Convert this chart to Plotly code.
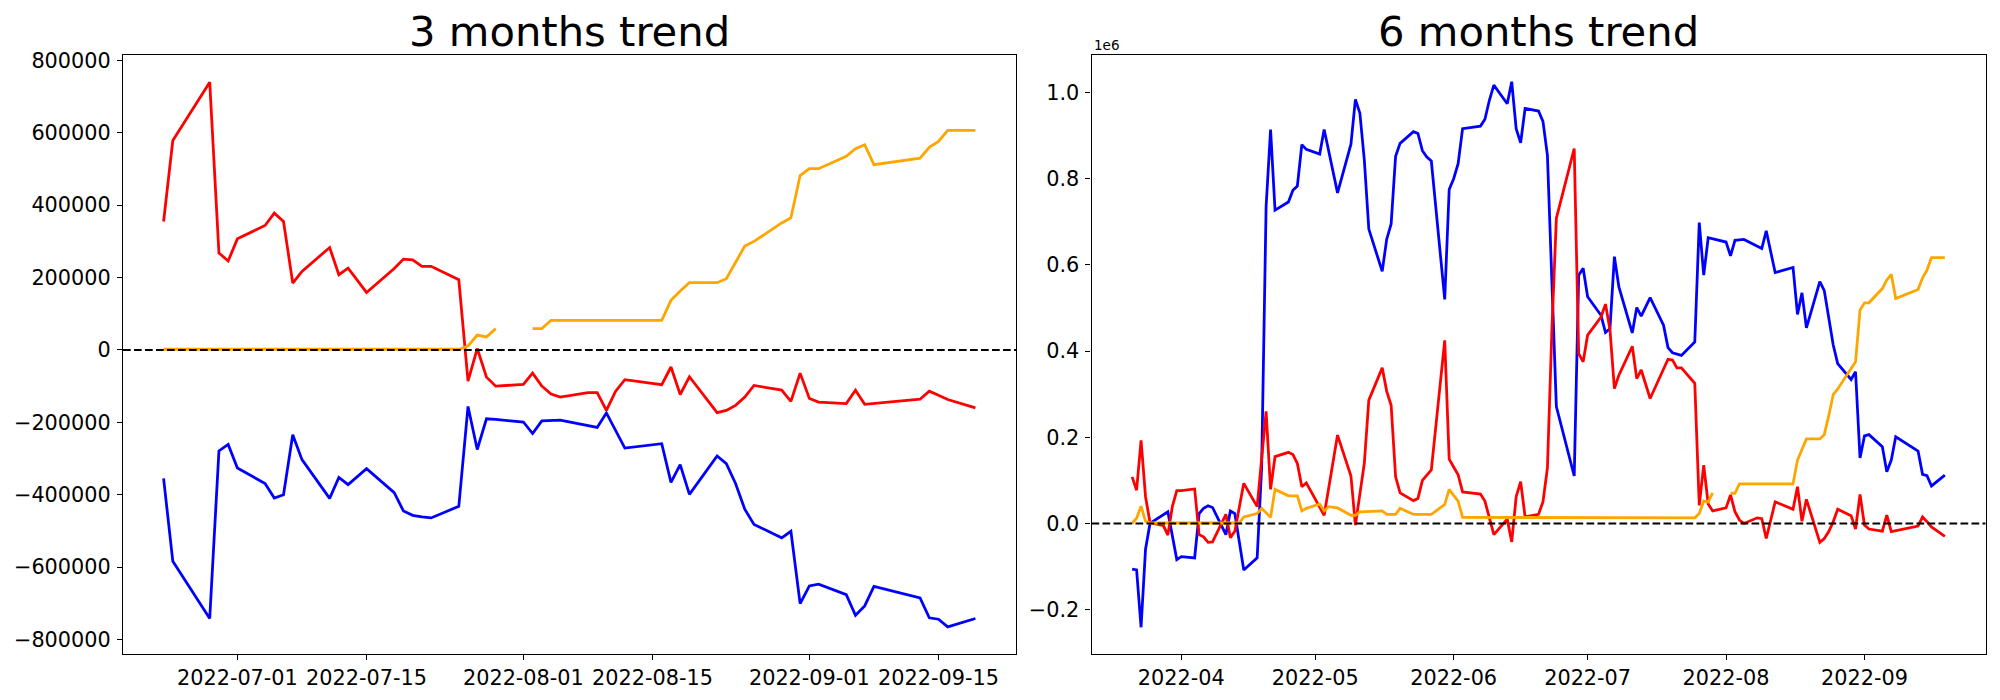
import plotly.graph_objects as go

# ---------------- 3 months trend (left) ----------------
red3 = [
    ("2022-06-23", 355000), ("2022-06-24", 579000), ("2022-06-28", 740000),
    ("2022-06-29", 268000), ("2022-06-30", 246000), ("2022-07-01", 307000),
    ("2022-07-04", 344000), ("2022-07-05", 378000), ("2022-07-06", 355000),
    ("2022-07-07", 185000), ("2022-07-08", 217000), ("2022-07-11", 283000),
    ("2022-07-12", 208000), ("2022-07-13", 226000), ("2022-07-15", 159000),
    ("2022-07-18", 225000), ("2022-07-19", 251000), ("2022-07-20", 249000),
    ("2022-07-21", 231000), ("2022-07-22", 231000), ("2022-07-25", 194000),
    ("2022-07-26", -86000), ("2022-07-27", 4000), ("2022-07-28", -75000),
    ("2022-07-29", -100000), ("2022-08-01", -95000), ("2022-08-02", -64000),
    ("2022-08-03", -100000), ("2022-08-04", -122000), ("2022-08-05", -130000),
    ("2022-08-08", -118000), ("2022-08-09", -118000), ("2022-08-10", -167000),
    ("2022-08-11", -114000), ("2022-08-12", -82000), ("2022-08-16", -96000),
    ("2022-08-17", -47000), ("2022-08-18", -123000), ("2022-08-19", -74000),
    ("2022-08-22", -173000), ("2022-08-23", -167000), ("2022-08-24", -153000),
    ("2022-08-25", -130000), ("2022-08-26", -98000), ("2022-08-29", -111000),
    ("2022-08-30", -142000), ("2022-08-31", -64000), ("2022-09-01", -134000),
    ("2022-09-02", -144000), ("2022-09-05", -148000), ("2022-09-06", -111000),
    ("2022-09-07", -150000), ("2022-09-13", -136000), ("2022-09-14", -114000),
    ("2022-09-15", -125000), ("2022-09-16", -137000), ("2022-09-19", -160000),
]
blue3 = [
    ("2022-06-23", -355000), ("2022-06-24", -584000), ("2022-06-28", -742000),
    ("2022-06-29", -279000), ("2022-06-30", -261000), ("2022-07-01", -326000),
    ("2022-07-04", -369000), ("2022-07-05", -409000), ("2022-07-06", -400000),
    ("2022-07-07", -234000), ("2022-07-08", -303000), ("2022-07-11", -410000),
    ("2022-07-12", -352000), ("2022-07-13", -372000), ("2022-07-15", -328000),
    ("2022-07-18", -394000), ("2022-07-19", -445000), ("2022-07-20", -457000),
    ("2022-07-21", -461000), ("2022-07-22", -464000), ("2022-07-25", -432000),
    ("2022-07-26", -156000), ("2022-07-27", -275000), ("2022-07-28", -190000),
    ("2022-07-29", -192000), ("2022-08-01", -199000), ("2022-08-02", -231000),
    ("2022-08-03", -196000), ("2022-08-05", -194000), ("2022-08-08", -210000),
    ("2022-08-09", -214000), ("2022-08-10", -174000), ("2022-08-12", -271000),
    ("2022-08-16", -259000), ("2022-08-17", -366000), ("2022-08-18", -317000),
    ("2022-08-19", -399000), ("2022-08-22", -293000), ("2022-08-23", -314000),
    ("2022-08-24", -369000), ("2022-08-25", -440000), ("2022-08-26", -482000),
    ("2022-08-29", -519000), ("2022-08-30", -501000), ("2022-08-31", -701000),
    ("2022-09-01", -652000), ("2022-09-02", -647000), ("2022-09-05", -676000),
    ("2022-09-06", -733000), ("2022-09-07", -707000), ("2022-09-08", -653000),
    ("2022-09-13", -685000), ("2022-09-14", -740000), ("2022-09-15", -744000),
    ("2022-09-16", -765000), ("2022-09-19", -742000),
]
orange3 = [
    ("2022-06-23", 2000), ("2022-07-25", 2000), ("2022-07-26", 11000),
    ("2022-07-27", 41000), ("2022-07-28", 36000), ("2022-07-29", 59000),
    ("2022-08-01", None), ("2022-08-02", 59000), ("2022-08-03", 59000),
    ("2022-08-04", 82000), ("2022-08-16", 82000), ("2022-08-17", 137000),
    ("2022-08-18", 163000), ("2022-08-19", 186000), ("2022-08-22", 186000),
    ("2022-08-23", 197000), ("2022-08-24", 241000), ("2022-08-25", 287000),
    ("2022-08-26", 300000), ("2022-08-29", 351000), ("2022-08-30", 365000),
    ("2022-08-31", 482000), ("2022-09-01", 501000), ("2022-09-02", 501000),
    ("2022-09-05", 535000), ("2022-09-06", 556000), ("2022-09-07", 567000),
    ("2022-09-08", 512000), ("2022-09-13", 530000), ("2022-09-14", 560000),
    ("2022-09-15", 576000), ("2022-09-16", 607000), ("2022-09-19", 607000),
]

# ---------------- 6 months trend (right) ----------------
blue6 = [
    ("2022-03-21", -106000), ("2022-03-22", -108000), ("2022-03-23", -241000),
    ("2022-03-24", -60000), ("2022-03-25", 0), ("2022-03-29", 27000),
    ("2022-03-31", -84000), ("2022-04-01", -77000), ("2022-04-04", -80000),
    ("2022-04-05", 23000), ("2022-04-06", 35000), ("2022-04-07", 41000),
    ("2022-04-08", 37000), ("2022-04-11", -26000), ("2022-04-12", 29000),
    ("2022-04-13", 23000), ("2022-04-15", -108000), ("2022-04-18", -80000),
    ("2022-04-19", 130000), ("2022-04-20", 735000), ("2022-04-21", 914000),
    ("2022-04-22", 727000), ("2022-04-25", 746000), ("2022-04-26", 773000),
    ("2022-04-27", 783000), ("2022-04-28", 879000), ("2022-04-29", 868000),
    ("2022-05-02", 857000), ("2022-05-03", 914000), ("2022-05-06", 767000),
    ("2022-05-09", 880000), ("2022-05-10", 984000), ("2022-05-11", 952000),
    ("2022-05-12", 843000), ("2022-05-13", 683000), ("2022-05-16", 585000),
    ("2022-05-17", 659000), ("2022-05-18", 695000), ("2022-05-19", 852000),
    ("2022-05-20", 882000), ("2022-05-23", 909000), ("2022-05-24", 905000),
    ("2022-05-25", 865000), ("2022-05-26", 850000), ("2022-05-27", 841000),
    ("2022-05-30", 520000), ("2022-05-31", 775000), ("2022-06-01", 800000),
    ("2022-06-02", 835000), ("2022-06-03", 916000), ("2022-06-07", 922000),
    ("2022-06-08", 938000), ("2022-06-09", 982000), ("2022-06-10", 1017000),
    ("2022-06-13", 974000), ("2022-06-14", 1025000), ("2022-06-15", 916000),
    ("2022-06-16", 883000), ("2022-06-17", 963000), ("2022-06-20", 957000),
    ("2022-06-21", 933000), ("2022-06-22", 854000), ("2022-06-23", 560000),
    ("2022-06-24", 271000), ("2022-06-28", 110000), ("2022-06-29", 576000),
    ("2022-06-30", 592000), ("2022-07-01", 526000), ("2022-07-04", 483000),
    ("2022-07-05", 443000), ("2022-07-06", 452000), ("2022-07-07", 619000),
    ("2022-07-08", 549000), ("2022-07-11", 442000), ("2022-07-12", 501000),
    ("2022-07-13", 481000), ("2022-07-15", 524000), ("2022-07-18", 460000),
    ("2022-07-19", 408000), ("2022-07-20", 396000), ("2022-07-22", 390000),
    ("2022-07-25", 421000), ("2022-07-26", 698000), ("2022-07-27", 576000),
    ("2022-07-28", 663000), ("2022-08-01", 653000), ("2022-08-02", 621000),
    ("2022-08-03", 657000), ("2022-08-05", 659000), ("2022-08-09", 638000),
    ("2022-08-10", 679000), ("2022-08-12", 582000), ("2022-08-16", 594000),
    ("2022-08-17", 485000), ("2022-08-18", 535000), ("2022-08-19", 454000),
    ("2022-08-22", 561000), ("2022-08-23", 540000), ("2022-08-25", 414000),
    ("2022-08-26", 371000), ("2022-08-29", 334000), ("2022-08-30", 352000),
    ("2022-08-31", 152000), ("2022-09-01", 203000), ("2022-09-02", 206000),
    ("2022-09-05", 178000), ("2022-09-06", 120000), ("2022-09-07", 147000),
    ("2022-09-08", 201000), ("2022-09-13", 168000), ("2022-09-14", 114000),
    ("2022-09-15", 111000), ("2022-09-16", 87000), ("2022-09-19", 112000),
]
red6 = [
    ("2022-03-21", 108000), ("2022-03-22", 77000), ("2022-03-23", 193000),
    ("2022-03-24", 62000), ("2022-03-25", 2000), ("2022-03-28", -5000),
    ("2022-03-29", -27000), ("2022-03-30", 39000), ("2022-03-31", 76000),
    ("2022-04-01", 76000), ("2022-04-04", 80000), ("2022-04-05", -26000),
    ("2022-04-06", -31000), ("2022-04-07", -44000), ("2022-04-08", -43000),
    ("2022-04-11", 21000), ("2022-04-12", -33000), ("2022-04-13", -18000),
    ("2022-04-15", 93000), ("2022-04-18", 39000), ("2022-04-20", 260000),
    ("2022-04-21", 79000), ("2022-04-22", 155000), ("2022-04-25", 165000),
    ("2022-04-26", 160000), ("2022-04-27", 139000), ("2022-04-28", 85000),
    ("2022-04-29", 94000), ("2022-05-03", 19000), ("2022-05-06", 205000),
    ("2022-05-09", 110000), ("2022-05-10", -4000), ("2022-05-12", 140000),
    ("2022-05-13", 286000), ("2022-05-16", 361000), ("2022-05-17", 307000),
    ("2022-05-18", 274000), ("2022-05-19", 108000), ("2022-05-20", 71000),
    ("2022-05-23", 53000), ("2022-05-24", 58000), ("2022-05-25", 100000),
    ("2022-05-26", 112000), ("2022-05-27", 124000), ("2022-05-30", 425000),
    ("2022-05-31", 149000), ("2022-06-01", 131000), ("2022-06-02", 113000),
    ("2022-06-03", 73000), ("2022-06-07", 68000), ("2022-06-08", 52000),
    ("2022-06-09", 15000), ("2022-06-10", -26000), ("2022-06-13", 10000),
    ("2022-06-14", -43000), ("2022-06-15", 62000), ("2022-06-16", 97000),
    ("2022-06-17", 15000), ("2022-06-20", 21000), ("2022-06-21", 50000),
    ("2022-06-22", 129000), ("2022-06-23", 450000), ("2022-06-24", 708000),
    ("2022-06-28", 870000), ("2022-06-29", 394000), ("2022-06-30", 375000),
    ("2022-07-01", 437000), ("2022-07-04", 479000), ("2022-07-05", 509000),
    ("2022-07-06", 450000), ("2022-07-07", 313000), ("2022-07-08", 344000),
    ("2022-07-11", 411000), ("2022-07-12", 336000), ("2022-07-13", 356000),
    ("2022-07-15", 290000), ("2022-07-19", 381000), ("2022-07-20", 379000),
    ("2022-07-21", 361000), ("2022-07-22", 361000), ("2022-07-25", 325000),
    ("2022-07-26", 42000), ("2022-07-27", 135000), ("2022-07-28", 45000),
    ("2022-07-29", 29000), ("2022-08-01", 36000), ("2022-08-02", 66000),
    ("2022-08-03", 27000), ("2022-08-04", 8000), ("2022-08-05", 0),
    ("2022-08-08", 13000), ("2022-08-09", 11000), ("2022-08-10", -35000),
    ("2022-08-12", 50000), ("2022-08-16", 33000), ("2022-08-17", 85000),
    ("2022-08-18", 5000), ("2022-08-19", 56000), ("2022-08-22", -44000),
    ("2022-08-23", -35000), ("2022-08-24", -19000), ("2022-08-25", 4000),
    ("2022-08-26", 33000), ("2022-08-29", 18000), ("2022-08-30", -13000),
    ("2022-08-31", 67000), ("2022-09-01", -4000), ("2022-09-02", -13000),
    ("2022-09-05", -18000), ("2022-09-06", 19000), ("2022-09-07", -19000),
    ("2022-09-13", -6000), ("2022-09-14", 15000), ("2022-09-15", 4000),
    ("2022-09-16", -8000), ("2022-09-19", -30000),
]
orange6 = [
    ("2022-03-21", 0), ("2022-03-22", 12000), ("2022-03-23", 40000),
    ("2022-03-24", 5000), ("2022-03-25", 1000), ("2022-04-14", 1000),
    ("2022-04-15", 15000), ("2022-04-18", 23000), ("2022-04-19", 35000),
    ("2022-04-21", 14000), ("2022-04-22", 79000), ("2022-04-25", 64000),
    ("2022-04-27", 64000), ("2022-04-28", 29000), ("2022-04-29", 35000),
    ("2022-05-02", 45000), ("2022-05-03", 29000), ("2022-05-04", 39000),
    ("2022-05-06", 36000), ("2022-05-09", 19000), ("2022-05-10", 19000),
    ("2022-05-11", 27000), ("2022-05-16", 29000), ("2022-05-17", 21000),
    ("2022-05-19", 21000), ("2022-05-20", 35000), ("2022-05-23", 21000),
    ("2022-05-27", 21000), ("2022-05-30", 44000), ("2022-05-31", 79000),
    ("2022-06-01", 65000), ("2022-06-02", 52000), ("2022-06-03", 14000),
    ("2022-07-25", 13000), ("2022-07-26", 23000), ("2022-07-27", 52000),
    ("2022-07-28", 50000), ("2022-07-29", 71000), ("2022-08-01", None),
    ("2022-08-02", 70000), ("2022-08-03", 70000), ("2022-08-04", 92000),
    ("2022-08-16", 92000), ("2022-08-17", 147000), ("2022-08-18", 170000),
    ("2022-08-19", 196000), ("2022-08-22", 196000), ("2022-08-23", 206000),
    ("2022-08-24", 250000), ("2022-08-25", 299000), ("2022-08-26", 312000),
    ("2022-08-29", 358000), ("2022-08-30", 375000), ("2022-08-31", 495000),
    ("2022-09-01", 512000), ("2022-09-02", 512000), ("2022-09-05", 545000),
    ("2022-09-06", 565000), ("2022-09-07", 578000), ("2022-09-08", 522000),
    ("2022-09-13", 543000), ("2022-09-14", 570000), ("2022-09-15", 588000),
    ("2022-09-16", 617000), ("2022-09-19", 617000),
]

titles = ["3 months trend", "6 months trend"]
x3_ticks = ["2022-07-01", "2022-07-15", "2022-08-01", "2022-08-15", "2022-09-01", "2022-09-15"]
x6_ticks = ["2022-04-01", "2022-05-01", "2022-06-01", "2022-07-01", "2022-08-01", "2022-09-01"]
x6_labels = ["2022-04", "2022-05", "2022-06", "2022-07", "2022-08", "2022-09"]
y3_ticks = [-800000, -600000, -400000, -200000, 0, 200000, 400000, 600000, 800000]
y3_labels = ["\u2212800000", "\u2212600000", "\u2212400000", "\u2212200000", "0",
             "200000", "400000", "600000", "800000"]
y6_ticks = [-200000, 0, 200000, 400000, 600000, 800000, 1000000]
y6_labels = ["\u22120.2", "0.0", "0.2", "0.4", "0.6", "0.8", "1.0"]

# page body has an 8px margin; the figure is sized so that it fits the window
OFF = 8
W, H = 2000 - 2 * OFF, 700 - 2 * OFF
LW = 2.78
DASH_W = 2.08
FONT = "DejaVu Sans"


def px_x(x):
    return (x - OFF) / W


def px_y(y):
    return 1 - (y - OFF) / H


fig = go.Figure()


def add(series, color, xa, ya):
    fig.add_trace(go.Scatter(
        x=[d for d, _ in series], y=[v for _, v in series],
        mode="lines", line=dict(color=color, width=LW),
        xaxis=xa, yaxis=ya, connectgaps=False,
        showlegend=False, hoverinfo="skip"))


for s, c in ((blue3, "blue"), (red3, "red"), (orange3, "orange")):
    add(s, c, "x", "y")
for s, c in ((blue6, "blue"), (red6, "red"), (orange6, "orange")):
    add(s, c, "x2", "y2")

ydom = [px_y(654), px_y(55)]
dom1 = [px_x(123), px_x(1016)]
dom2 = [px_x(1091.5), px_x(1985.5)]

axis_common = dict(
    showgrid=False, zeroline=False, showline=True, mirror=True,
    linecolor="black", linewidth=1.1, ticks="outside", ticklen=5,
    tickwidth=1.1, tickcolor="black", automargin=False,
    tickfont=dict(family=FONT, size=20.8, color="black"),
)

fig.update_layout(
    width=W, height=H, autosize=False,
    margin=dict(l=0, r=0, t=0, b=0, pad=0),
    paper_bgcolor="white", plot_bgcolor="white",
    hovermode=False,
    xaxis=dict(domain=dom1, anchor="y", type="date",
               range=["2022-06-18 14:24", "2022-09-23 09:36"],
               tickmode="array", tickvals=x3_ticks, ticktext=x3_ticks, **axis_common),
    yaxis=dict(domain=ydom, anchor="x", range=[-840000, 815000],
               tickmode="array", tickvals=y3_ticks, ticktext=y3_labels,
               ticklabelstandoff=2, **axis_common),
    xaxis2=dict(domain=dom2, anchor="y2", type="date",
                range=["2022-03-11 21:36", "2022-09-28 02:24"],
                tickmode="array", tickvals=x6_ticks, ticktext=x6_labels, **axis_common),
    yaxis2=dict(domain=ydom, anchor="x2", range=[-303000, 1087000],
                tickmode="array", tickvals=y6_ticks, ticktext=y6_labels,
                ticklabelstandoff=2, **axis_common),
)

for yref, xref in (("y", "x domain"), ("y2", "x2 domain")):
    fig.add_shape(type="line", xref=xref, x0=0, x1=1, yref=yref, y0=0, y1=0,
                  line=dict(color="black", width=DASH_W, dash="7.7px,3.3px"))

for t, dom in zip(titles, (dom1, dom2)):
    fig.add_annotation(text=t, xref="paper", yref="paper",
                       x=(dom[0] + dom[1]) / 2, y=px_y(57.7),
                       xanchor="center", yanchor="bottom", showarrow=False,
                       font=dict(family=FONT, size=41.7, color="black"))

fig.add_annotation(text="1e6", xref="paper", yref="paper",
                   x=dom2[0], y=px_y(54.8), xanchor="left", yanchor="bottom",
                   showarrow=False, font=dict(family=FONT, size=13.5, color="black"))

fig.write_html("out.html")
